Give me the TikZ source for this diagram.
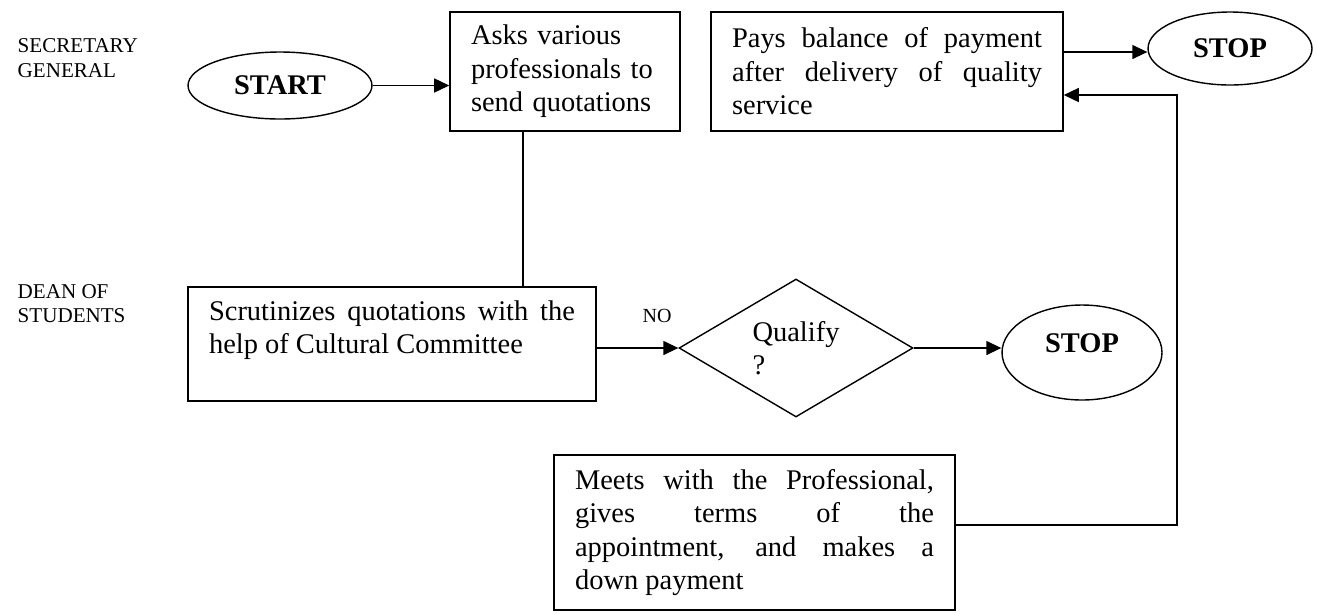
\documentclass[tikz,border=0pt]{standalone}
\usepackage{fontspec}
\setmainfont{Liberation Serif}
\usetikzlibrary{arrows.meta,shapes.geometric}
\newcommand\flowfont{\fontsize{16.2}{19.1}\selectfont}
\newcommand\lanefont{\fontsize{12}{13.9}\selectfont}
\newcommand\tagfont{\fontsize{11.4}{13}\selectfont}
\tikzset{
  proc/.style={draw,line width=0.9pt,font=\flowfont,inner xsep=0.42cm,inner ysep=0},
  term/.style={draw,ellipse,font=\flowfont\bfseries,inner sep=0},
  decide/.style={draw,diamond,aspect=1.7,font=\flowfont,inner sep=0,align=left,minimum width=4.68cm,minimum height=2.76cm},
  lane/.style={font=\lanefont,align=left,inner sep=0,anchor=west},
  arr/.style={-{Triangle[length=0.3cm,width=0.28cm]}}
}
\begin{document}
\begin{tikzpicture}[x=0.02cm,y=-0.02cm,line width=0.8pt]
\useasboundingbox (0,0) rectangle (1317,613);
\node[lane] (sg) at (17,58) {SECRETARY\\GENERAL};
\node[lane] (ds) at (17,303.5) {DEAN OF\\STUDENTS};
\node[term,minimum width=3.68cm,minimum height=1.34cm] (start) at (280,85.5) {START};
\node[proc,text width=3.76cm,align=left,minimum height=2.38cm] (asks) at (565,71.5) {Asks various\\professionals to\\send quotations};
\node[proc,text width=6.2cm,align=justify,minimum height=2.38cm] (pays) at (887,71.5) {Pays balance of payment\linebreak after delivery of quality\linebreak service};
\node[term,minimum width=3.28cm,minimum height=1.46cm] (stopa) at (1230,48.5) {STOP};
\node[proc,text width=7.32cm,align=justify,minimum height=2.28cm] (scrut) at (392,344) {Scrutinizes quotations with the\linebreak help of Cultural Committee\par\mbox{}};
\node[decide] (qual) at (796,348) {Qualify\\?};
\node[term,minimum width=3.2cm,minimum height=1.9cm,text depth=0.38cm] (stopb) at (1082,352.5) {STOP};
\node[proc,text width=7.18cm,align=justify,minimum height=3.1cm] (meets) at (754.5,532.5) {Meets with the Professional,\linebreak gives terms of the\linebreak appointment, and makes a\linebreak down payment};
\coordinate (bend) at (1177,95);
\draw[arr] (start.east) -- (start.east -| asks.west);
\draw ([xshift=-0.84cm]asks.south) -- ([xshift=-0.84cm]asks.south |- scrut.north);
\draw[arr] ([yshift=0.39cm]pays.east) -- ([yshift=0.39cm]pays.east -| stopa.west);
\draw[arr] (scrut.east |- qual.west) -- (qual.west) node[pos=0.74,above=0.5cm,inner sep=0,font=\tagfont] (no) {NO};
\draw[arr] (qual.east) -- (qual.east -| stopb.west);
\draw[arr] ([yshift=0.15cm]meets.east) -| (bend) -- (bend -| pays.east);
\end{tikzpicture}
\end{document}
